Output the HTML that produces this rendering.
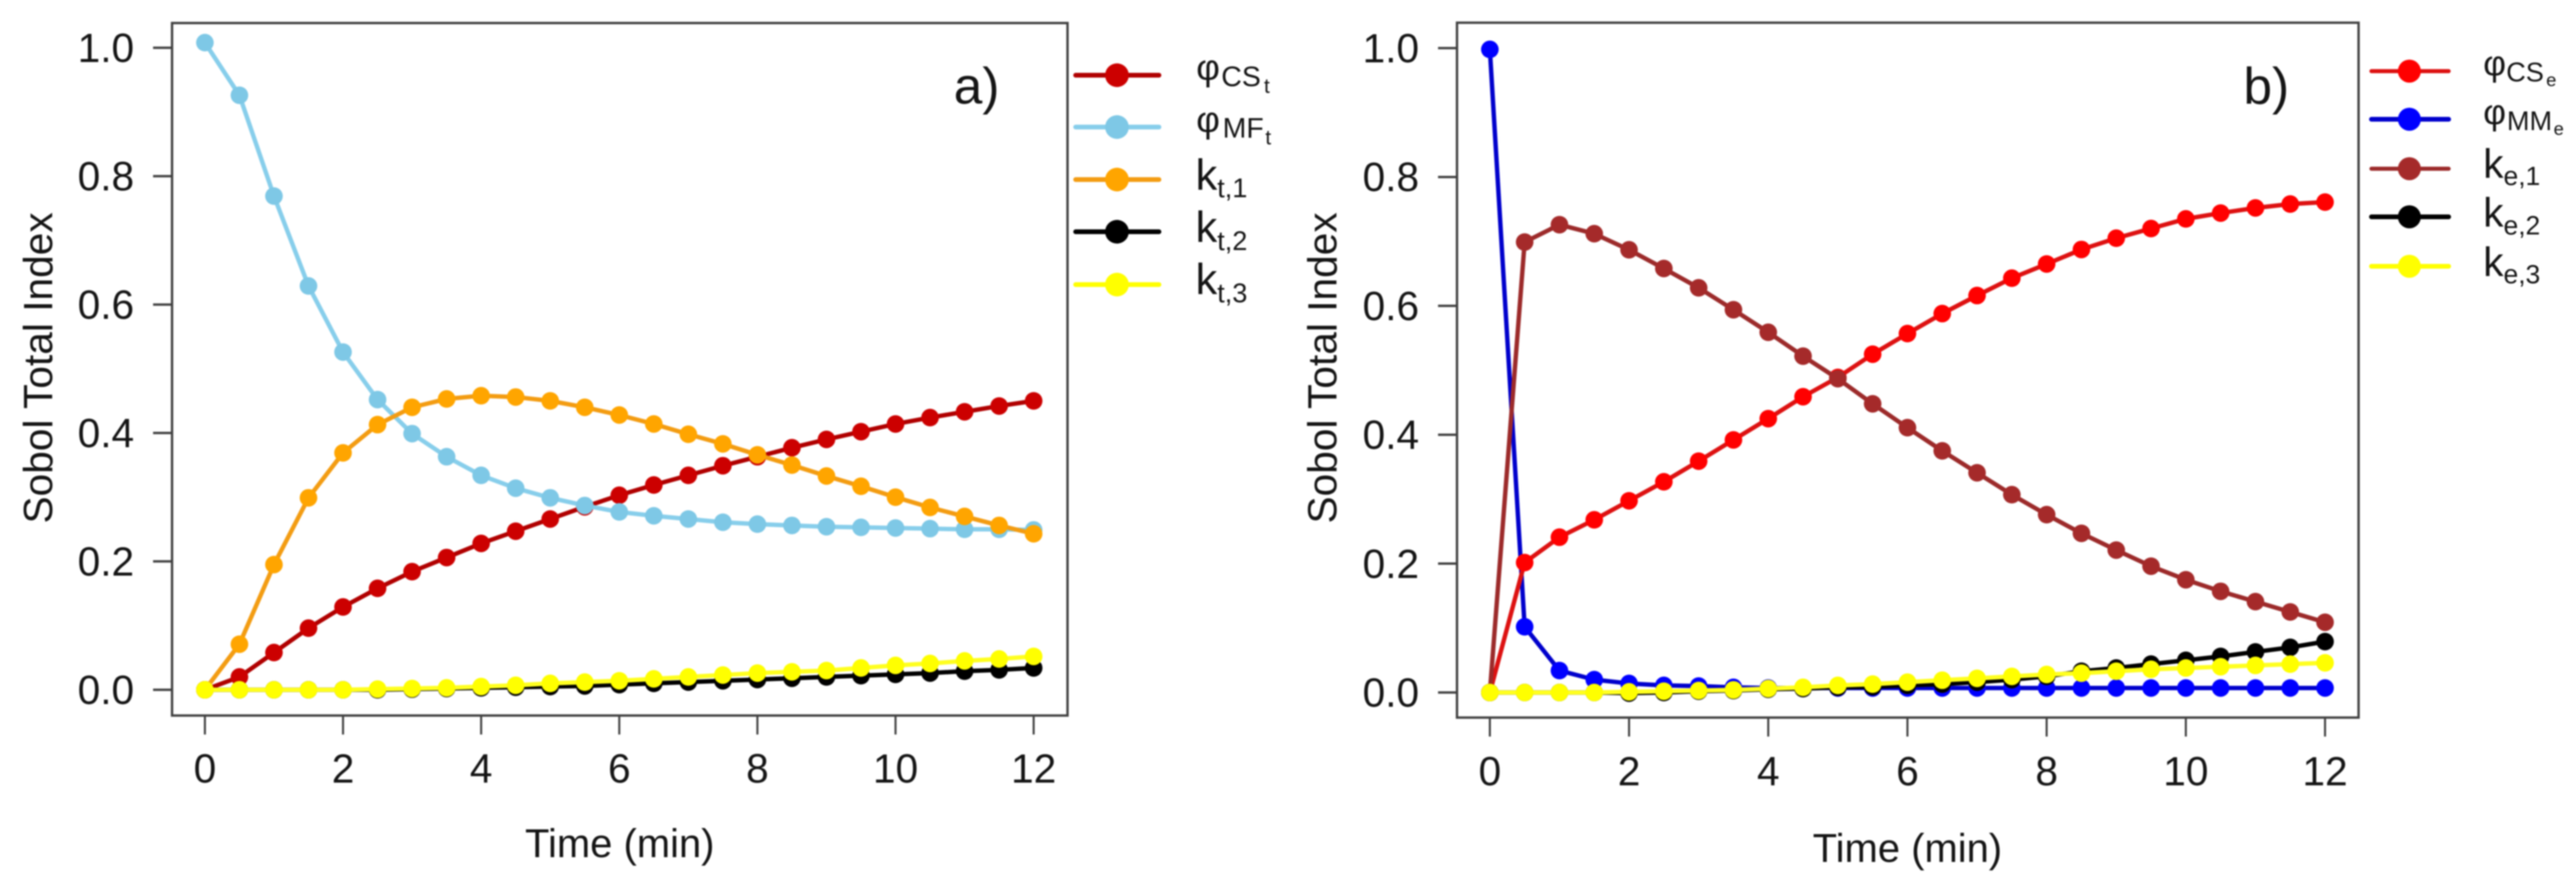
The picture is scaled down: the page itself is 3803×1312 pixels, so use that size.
<!DOCTYPE html>
<html lang="en">
<head>
<meta charset="utf-8">
<title>Sobol Total Index over Time</title>
<style>
html,body{margin:0;padding:0;background:#fff;width:3803px;height:1312px;overflow:hidden}
svg{display:block;filter:blur(1px)}
text{font-family:"Liberation Sans",Arial,sans-serif;fill:#141414}
</style>
</head>
<body>
<svg id="figure" xmlns="http://www.w3.org/2000/svg" width="3803" height="1312" viewBox="0 0 3803 1312">
  <rect x="0" y="0" width="3803" height="1312" fill="#ffffff"/>

  <g id="panelA"></g>
  <g id="panelB"></g>

  <text x="1408" y="153" font-size="76">a)</text>
  <text x="3312" y="153" font-size="76">b)</text>

  <text x="915" y="1265" font-size="59" text-anchor="middle">Time (min)</text>
  <text x="2816" y="1272" font-size="59" text-anchor="middle">Time (min)</text>
  <text transform="translate(77,543) rotate(-90)" font-size="60" text-anchor="middle">Sobol Total Index</text>
  <text transform="translate(1973,543) rotate(-90)" font-size="60" text-anchor="middle">Sobol Total Index</text>

  <g>
    <g>
      <line x1="1588" x2="1711" y1="111" y2="111" stroke="#b00000" stroke-width="7" stroke-linecap="round"/>
      <circle cx="1649" cy="111" r="17.5" fill="#cc0000"/>
      <text font-size="54" x="1766" y="118">φ<tspan font-size="42" x="1803" y="127">CS</tspan><tspan font-size="31" x="1866" y="137">t</tspan></text>
    </g>
    <g>
      <line x1="1588" x2="1711" y1="187.5" y2="187.5" stroke="#87ceeb" stroke-width="7" stroke-linecap="round"/>
      <circle cx="1649" cy="187.5" r="17.5" fill="#7ec8e6"/>
      <text font-size="54" x="1766" y="195">φ<tspan font-size="42" x="1805" y="203">MF</tspan><tspan font-size="31" x="1868" y="213">t</tspan></text>
    </g>
    <g>
      <line x1="1588" x2="1711" y1="265" y2="265" stroke="#f39c12" stroke-width="7" stroke-linecap="round"/>
      <circle cx="1649" cy="265" r="17.5" fill="#ffa500"/>
      <text font-size="64" x="1765" y="280">k<tspan font-size="40" x="1797" y="291">t,1</tspan></text>
    </g>
    <g>
      <line x1="1588" x2="1711" y1="342" y2="342" stroke="#000000" stroke-width="7" stroke-linecap="round"/>
      <circle cx="1649" cy="342" r="17.5" fill="#000000"/>
      <text font-size="64" x="1765" y="357">k<tspan font-size="40" x="1797" y="369">t,2</tspan></text>
    </g>
    <g>
      <line x1="1588" x2="1711" y1="420" y2="420" stroke="#ffff00" stroke-width="7" stroke-linecap="round"/>
      <circle cx="1649" cy="420" r="17.5" fill="#ffff00"/>
      <text font-size="64" x="1765" y="434">k<tspan font-size="40" x="1797" y="446">t,3</tspan></text>
    </g>
  </g>

  <g>
    <g>
      <line x1="3501" x2="3615" y1="105" y2="105" stroke="#dd1111" stroke-width="6" stroke-linecap="round"/>
      <circle cx="3557" cy="105" r="17" fill="#ff0000"/>
      <text font-size="52" x="3666" y="111">φ<tspan font-size="40" x="3700" y="120">CS</tspan><tspan font-size="27" x="3759" y="127">e</tspan></text>
    </g>
    <g>
      <line x1="3501" x2="3615" y1="176" y2="176" stroke="#0000cc" stroke-width="7" stroke-linecap="round"/>
      <circle cx="3557" cy="176" r="17" fill="#0000ff"/>
      <text font-size="52" x="3666" y="183">φ<tspan font-size="40" x="3701" y="192">MM</tspan><tspan font-size="27" x="3770" y="199">e</tspan></text>
    </g>
    <g>
      <line x1="3501" x2="3615" y1="249" y2="249" stroke="#9c2a2a" stroke-width="6" stroke-linecap="round"/>
      <circle cx="3557" cy="249" r="17" fill="#a52a2a"/>
      <text font-size="60" x="3666" y="262">k<tspan font-size="39" x="3696" y="273">e,1</tspan></text>
    </g>
    <g>
      <line x1="3501" x2="3615" y1="320" y2="320" stroke="#000000" stroke-width="7" stroke-linecap="round"/>
      <circle cx="3557" cy="320" r="17" fill="#000000"/>
      <text font-size="60" x="3666" y="334">k<tspan font-size="39" x="3696" y="346">e,2</tspan></text>
    </g>
    <g>
      <line x1="3501" x2="3615" y1="393" y2="393" stroke="#ffff00" stroke-width="7" stroke-linecap="round"/>
      <circle cx="3557" cy="393" r="17" fill="#ffff00"/>
      <text font-size="60" x="3666" y="407">k<tspan font-size="39" x="3696" y="418">e,3</tspan></text>
    </g>
  </g>
</svg>

<script>
var timePoints = [0,0.5,1,1.5,2,2.5,3,3.5,4,4.5,5,5.5,6,6.5,7,7.5,8,8.5,9,9.5,10,10.5,11,11.5,12];
var xTickValues = [0,2,4,6,8,10,12];
var yTickValues = [0,0.2,0.4,0.6,0.8,1];
var yTickLabels = ["0.0","0.2","0.4","0.6","0.8","1.0"];

var phiCSt = [0,0.02,0.058,0.096,0.129,0.158,0.184,0.206,0.228,0.247,0.266,0.285,0.303,0.319,0.334,0.349,0.363,0.377,0.39,0.402,0.414,0.424,0.433,0.442,0.45];
var phiMFt = [1.008,0.926,0.769,0.629,0.526,0.452,0.399,0.363,0.334,0.314,0.299,0.287,0.277,0.271,0.266,0.261,0.258,0.256,0.254,0.253,0.252,0.251,0.25,0.25,0.249];
var kt1 = [0,0.071,0.195,0.299,0.369,0.413,0.44,0.453,0.458,0.456,0.45,0.44,0.428,0.414,0.398,0.383,0.366,0.35,0.333,0.317,0.3,0.284,0.27,0.256,0.243];
var kt2 = [0,0,0,0,0,0,0.001,0.002,0.003,0.004,0.005,0.006,0.008,0.01,0.012,0.014,0.016,0.018,0.02,0.022,0.024,0.026,0.029,0.031,0.034];
var kt3 = [0,0,0,0,0,0.001,0.002,0.003,0.005,0.007,0.01,0.012,0.014,0.017,0.02,0.023,0.026,0.028,0.03,0.034,0.038,0.041,0.045,0.048,0.052];

var phiCSe = [0,0.2016,0.241,0.268,0.2975,0.327,0.359,0.392,0.425,0.459,0.489,0.525,0.557,0.588,0.616,0.643,0.665,0.6875,0.705,0.72,0.735,0.744,0.752,0.758,0.761];
var phiMMe = [0.998,0.102,0.034,0.02,0.014,0.011,0.01,0.008,0.007,0.007,0.007,0.007,0.007,0.007,0.007,0.007,0.007,0.007,0.007,0.007,0.007,0.007,0.007,0.007,0.007];
var ke1 = [0,0.699,0.726,0.712,0.687,0.658,0.628,0.594,0.559,0.522,0.487,0.448,0.411,0.375,0.341,0.307,0.276,0.247,0.221,0.196,0.175,0.157,0.141,0.125,0.109];
var ke2 = [0,0,0,0,-0.001,0,0.002,0.003,0.005,0.006,0.008,0.009,0.011,0.013,0.016,0.02,0.025,0.033,0.038,0.044,0.05,0.056,0.063,0.07,0.079];
var ke3 = [0,0,0,0,0.001,0.002,0.003,0.004,0.006,0.008,0.011,0.013,0.016,0.019,0.022,0.025,0.028,0.03,0.033,0.036,0.038,0.04,0.042,0.044,0.046];

var SVGNS = 'http://www.w3.org/2000/svg';

function make(tag, attrs, parent) {
  var el = document.createElementNS(SVGNS, tag);
  for (var k in attrs) { el.setAttribute(k, attrs[k]); }
  parent.appendChild(el);
  return el;
}

function drawPanel(parent, cfg) {
  function xScale(t) { return cfg.x0 + (t - 0) * (cfg.x12 - cfg.x0) / 12; }
  function yScale(v) { return cfg.y0 + v * (cfg.y1 - cfg.y0); }

  var frame = make('rect', {x: cfg.left, y: cfg.top, width: cfg.right - cfg.left, height: cfg.bottom - cfg.top, fill: 'none', stroke: '#404040', 'stroke-width': 3.5}, parent);
  
  

  xTickValues.forEach(function (t) {
    var tick = make('line', {x1: xScale(t), x2: xScale(t), y1: cfg.bottom, y2: cfg.bottom + 28, stroke: '#404040', 'stroke-width': 3}, parent);
    
    
    var label = make('text', {x: xScale(t), y: cfg.xLabelY, 'font-size': 60, 'text-anchor': 'middle'}, parent);
    label.textContent = String(t);
    
    
  });

  yTickValues.forEach(function (v, i) {
    var tick = make('line', {x1: cfg.left - 28, x2: cfg.left, y1: yScale(v), y2: yScale(v), stroke: '#404040', 'stroke-width': 3.5}, parent);
    
    
    var label = make('text', {x: cfg.yLabelX, y: yScale(v) + 21, 'font-size': 60, 'text-anchor': 'end'}, parent);
    label.textContent = yTickLabels[i];
    
    
  });

  cfg.series.forEach(function (s) {
    var group = make('g', {}, parent);
    
    
    var pts = s.values.map(function (v, i) { return xScale(timePoints[i]) + ',' + yScale(v); }).join(' ');
    var line = make('polyline', {points: pts, fill: 'none', stroke: s.line, 'stroke-width': 6.5, 'stroke-linejoin': 'round'}, group);
    
    
    s.values.forEach(function (v, i) {
      var dot = make('circle', {cx: xScale(timePoints[i]), cy: yScale(v), r: 13, fill: s.fill}, group);
      
      
    });
  });
}

drawPanel(document.getElementById('panelA'), {
  left: 254, right: 1576, top: 34, bottom: 1056,
  x0: 302.5, x12: 1526, y0: 1018, y1: 70.5,
  xLabelY: 1155, yLabelX: 198,
  series: [
    {name: 'series-phi-cs-t', values: phiCSt, line: '#b00000', fill: '#cc0000'},
    {name: 'series-k-t-2', values: kt2, line: '#000000', fill: '#000000'},
    {name: 'series-phi-mf-t', values: phiMFt, line: '#87ceeb', fill: '#7ec8e6'},
    {name: 'series-k-t-1', values: kt1, line: '#f39c12', fill: '#ffa500'},
    {name: 'series-k-t-3', values: kt3, line: '#ffff20', fill: '#ffff00'}
  ]
});

drawPanel(document.getElementById('panelB'), {
  left: 2151, right: 3482, top: 33.5, bottom: 1059,
  x0: 2199.5, x12: 3432.5, y0: 1022, y1: 71,
  xLabelY: 1159, yLabelX: 2095,
  series: [
    {name: 'series-phi-mm-e', values: phiMMe, line: '#0000cc', fill: '#0000ff'},
    {name: 'series-phi-cs-e', values: phiCSe, line: '#dd1111', fill: '#ff0000'},
    {name: 'series-k-e-1', values: ke1, line: '#9c2a2a', fill: '#a52a2a'},
    {name: 'series-k-e-2', values: ke2, line: '#000000', fill: '#000000'},
    {name: 'series-k-e-3', values: ke3, line: '#ffff20', fill: '#ffff00'}
  ]
});
</script>
</body>
</html>
